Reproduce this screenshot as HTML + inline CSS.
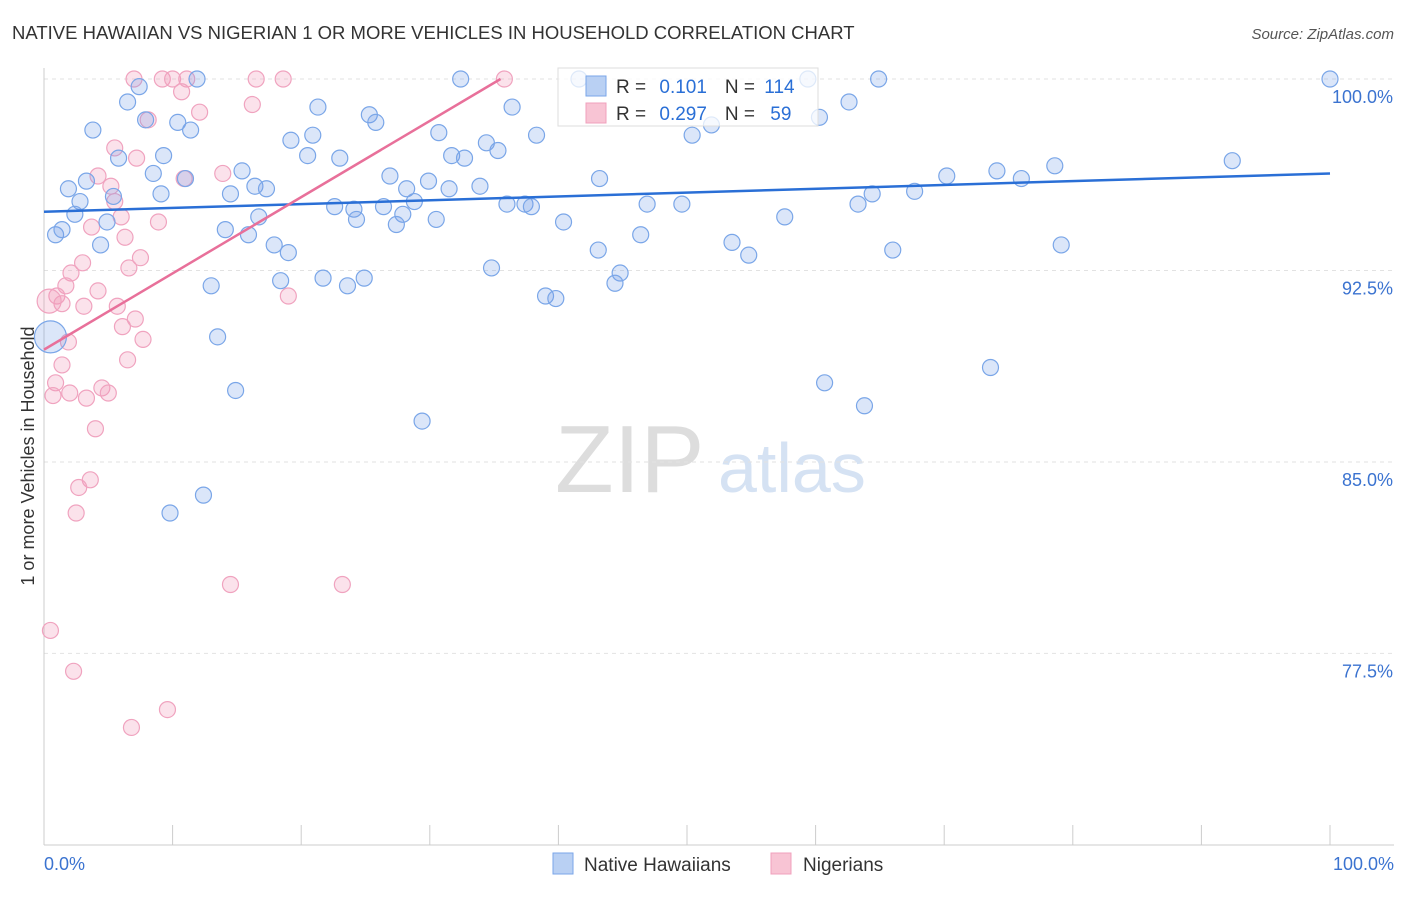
<!DOCTYPE html>
<html><head><meta charset="utf-8"><style>
body{margin:0;background:#fff;font-family:"Liberation Sans",sans-serif;}
svg text{font-family:"Liberation Sans",sans-serif;}
</style></head><body>
<svg id="chart" width="1406" height="892" xmlns="http://www.w3.org/2000/svg">
<text x="12" y="39" font-size="18.5" fill="#333">NATIVE HAWAIIAN VS NIGERIAN 1 OR MORE VEHICLES IN HOUSEHOLD CORRELATION CHART</text>
<text x="1394" y="39" font-size="15" fill="#555" font-style="italic" text-anchor="end">Source: ZipAtlas.com</text>
<text x="34" y="456" font-size="18" fill="#333" text-anchor="middle" transform="rotate(-90 34 456)">1 or more Vehicles in Household</text>
<text x="555" y="492" font-size="96" fill="#ddd" font-family="Liberation Serif">ZIP</text>
<text x="718" y="492" font-size="70" fill="#d5e2f3">atlas</text>
<g id="grid"></g><g id="axes"></g><g id="pts"></g><g id="lines"></g>
<g>
<rect x="558" y="68" width="260" height="58" fill="#fff" fill-opacity="0.75" stroke="#ddd"/>
<rect x="586" y="76" width="20" height="20" fill="#b9d0f3" stroke="#7aa6e8"/>
<rect x="586" y="103" width="20" height="20" fill="#f8c4d4" stroke="#f0a0bc"/>
<text x="616" y="93" font-size="19" fill="#333">R = <tspan fill="#2a6fd6" dx="8">0.101</tspan><tspan dx="18">N = </tspan><tspan fill="#2a6fd6" dx="4">114</tspan></text>
<text x="616" y="120" font-size="19" fill="#333">R = <tspan fill="#2a6fd6" dx="8">0.297</tspan><tspan dx="18">N = </tspan><tspan fill="#2a6fd6" dx="10">59</tspan></text>
</g>
<g>
<rect x="553" y="853" width="20" height="21" fill="#b9d0f3" stroke="#7aa6e8"/>
<text x="584" y="871" font-size="19" fill="#333">Native Hawaiians</text>
<rect x="771" y="853" width="20" height="21" fill="#f8c4d4" stroke="#f0a0bc"/>
<text x="803" y="871" font-size="19" fill="#333">Nigerians</text>
</g>
</svg>
<script>
const yTicks=[100,92.5,85,77.5];
const yTickLabels=["100.0%","92.5%","85.0%","77.5%"];
const xTickLabels=["0.0%","100.0%"];
const blueX=[100,64.9,32.4,11.9,41.6,59.4,7.4,6.5,21.3,25.3,36.4,62.6,60.3,3.8,10.4,11.4,7.9,25.8,30.7,38.3,50.4,51.9,19.2,20.9,34.4,35.3,5.8,9.3,20.5,23.0,31.7,32.7,8.5,15.4,11.0,26.9,29.9,43.2,28.2,31.5,33.9,16.4,17.3,14.5,9.1,1.9,3.3,5.4,70.2,74.1,76.0,78.6,92.4,67.7,64.4,63.3,2.8,2.4,4.9,0.9,1.4,4.4,16.7,14.1,15.9,17.9,19.0,22.6,24.1,24.3,26.4,27.9,27.4,28.8,30.5,36.0,37.4,37.9,40.4,46.9,49.6,57.6,53.5,54.8,46.4,43.1,44.8,44.4,66.0,79.1,13.0,18.4,21.7,23.6,24.9,34.8,39.0,39.8,13.5,14.9,29.4,60.7,63.8,73.6,12.4,9.8,0.5];
const blueY=[100,100,100,100,100,100,99.7,99.1,98.9,98.6,98.9,99.1,98.5,98.0,98.3,98.0,98.4,98.3,97.9,97.8,97.8,98.2,97.6,97.8,97.5,97.2,96.9,97.0,97.0,96.9,97.0,96.9,96.3,96.4,96.1,96.2,96.0,96.1,95.7,95.7,95.8,95.8,95.7,95.5,95.5,95.7,96.0,95.4,96.2,96.4,96.1,96.6,96.8,95.6,95.5,95.1,95.2,94.7,94.4,93.9,94.1,93.5,94.6,94.1,93.9,93.5,93.2,95.0,94.9,94.5,95.0,94.7,94.3,95.2,94.5,95.1,95.1,95.0,94.4,95.1,95.1,94.6,93.6,93.1,93.9,93.3,92.4,92.0,93.3,93.5,91.9,92.1,92.2,91.9,92.2,92.6,91.5,91.4,89.9,87.8,86.6,88.1,87.2,88.7,83.7,83.0,89.9];
const pinkX=[7.0,9.2,10.0,11.1,16.5,18.6,35.8,10.7,16.2,12.1,8.1,5.5,7.2,10.9,13.9,4.2,5.2,5.5,6.0,3.7,8.9,6.3,7.5,6.6,3.0,2.1,1.7,4.2,1.0,1.4,5.7,3.1,7.1,6.1,19.0,7.7,1.9,1.4,6.5,0.9,4.5,5.0,2.0,3.3,0.7,4.0,3.6,2.7,2.5,14.5,23.2,0.5,2.3,9.6,6.8,0.4];
const pinkY=[100,100,100,100,100,100,100,99.5,99.0,98.7,98.4,97.3,96.9,96.1,96.3,96.2,95.8,95.2,94.6,94.2,94.4,93.8,93.0,92.6,92.8,92.4,91.9,91.7,91.5,91.2,91.1,91.1,90.6,90.3,91.5,89.8,89.7,88.8,89.0,88.1,87.9,87.7,87.7,87.5,87.6,86.3,84.3,84.0,83.0,80.2,80.2,78.4,76.8,75.3,74.6,91.3];
const blueTrend=[94.8,96.3];
const pinkTrend=[89.4,100];
const NS="http://www.w3.org/2000/svg";
const sx=v=>44+v*12.86;
const sy=v=>79+(100-v)*25.53;
function mk(t,a,p){const e=document.createElementNS(NS,t);for(const k in a)e.setAttribute(k,a[k]);p.appendChild(e);return e;}
const grid=document.getElementById('grid'),axes=document.getElementById('axes'),pts=document.getElementById('pts'),lines=document.getElementById('lines');
yTicks.forEach((v,i)=>{
 const l=mk('line',{x1:44,x2:1394,y1:sy(v),y2:sy(v),stroke:'#e2e2e2','stroke-dasharray':'4,4'},grid);
 
 
 const t=mk('text',{x:1393,y:sy(v)+24,'font-size':18,fill:'#3b73d0','text-anchor':'end'},axes);t.textContent=yTickLabels[i];
 
 
});
const xa=mk('line',{x1:44,x2:1394,y1:845,y2:845,stroke:'#ccc'},axes);


const ya=mk('line',{x1:44,x2:44,y1:68,y2:845,stroke:'#ccc'},axes);


for(let i=0;i<=10;i++){const t=mk('line',{x1:sx(i*10),x2:sx(i*10),y1:825,y2:845,stroke:'#ccc'},axes);
 
 }
[[0,'start',xTickLabels[0]],[100,'end',xTickLabels[1]]].forEach(([v,a,s])=>{const t=mk('text',{x:v==0?44:1394,y:870,'font-size':18,fill:'#3b73d0','text-anchor':a},axes);t.textContent=s;
 
 });
pinkX.forEach((x,i)=>{const c=mk('circle',{cx:sx(x),cy:sy(pinkY[i]),r:i==pinkX.length-1?12:8,fill:'rgba(242,150,182,0.28)',stroke:'#f0a3bf','stroke-width':1.2},pts);
 
 });
blueX.forEach((x,i)=>{const c=mk('circle',{cx:sx(x),cy:sy(blueY[i]),r:i==blueX.length-1?16:8,fill:'rgba(110,155,230,0.25)',stroke:'#7aa6e8','stroke-width':1.2},pts);
 
 });
const bl=mk('line',{x1:sx(0),y1:sy(blueTrend[0]),x2:sx(100),y2:sy(blueTrend[1]),stroke:'#2a6fd6','stroke-width':2.5},lines);


const pl=mk('line',{x1:sx(0),y1:sy(pinkTrend[0]),x2:sx(35.5),y2:sy(pinkTrend[1]),stroke:'#e8709a','stroke-width':2.5},lines);


</script>
</body></html>
